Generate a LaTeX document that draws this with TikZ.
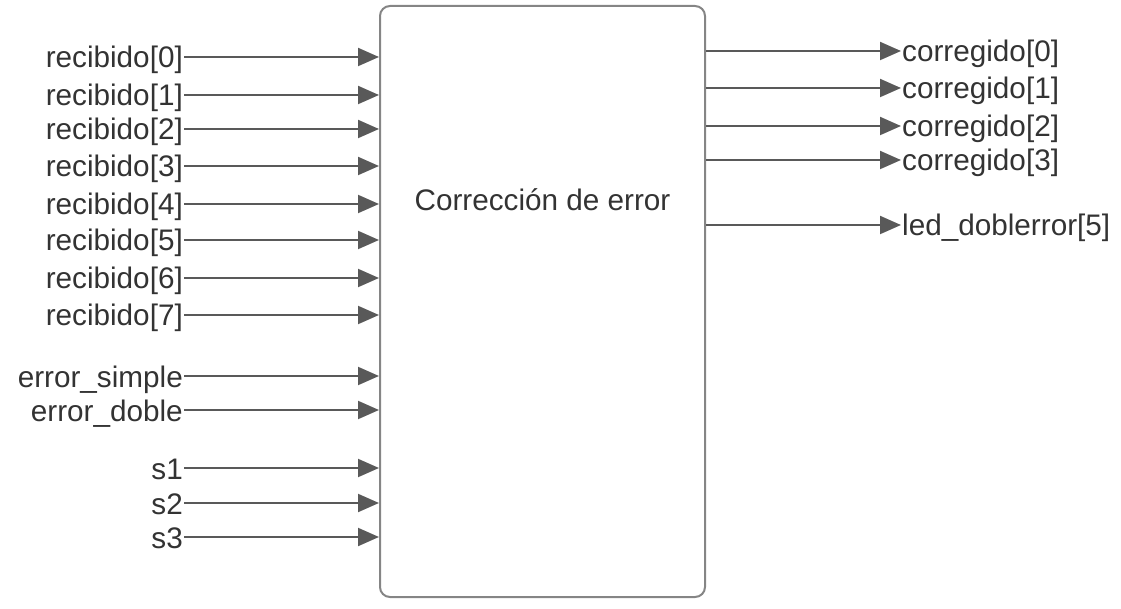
\documentclass[tikz,border=0pt]{standalone}
\usepackage{fontspec}
\setmainfont{Liberation Sans}
\usetikzlibrary{arrows.meta}
\definecolor{wire}{HTML}{595959}
\definecolor{frame}{HTML}{858585}
\definecolor{ink}{HTML}{333333}
\tikzset{
  sig/.style={draw=wire, line width=2pt, -{Triangle[length=21pt,width=18pt]}, color=wire},
  lbl/.style={inner sep=1pt, text=ink, font=\fontsize{29.7}{32}\selectfont, text height=25pt, text depth=3pt},
}
\begin{document}
\begin{tikzpicture}[x=1pt, y=-1pt]
    \useasboundingbox (0,0) rectangle (1121,609);
    % block
    \node[draw=frame, line width=2pt, rounded corners=10pt, minimum width=325pt, minimum height=591pt, inner sep=0pt] (blk) at (542.5,301.5) {};
    \node[lbl] (title) at (542.5,200) {Corrección de error};

    % inputs
    \foreach \y/\txt [count=\i] in {57/recibido[0], 95/recibido[1], 129/recibido[2], 166/recibido[3], 204/recibido[4], 240/recibido[5], 278/recibido[6], 315/recibido[7], 376/error\_simple, 410/error\_doble, 468/s1, 503/s2, 537/s3}{
        \node[lbl, anchor=east] (in\i) at (184,\y) {\txt};
        \draw[sig] (in\i.east) -- (blk.west |- in\i.east);
    }

    % outputs
    \foreach \y/\txt [count=\i] in {51/corregido[0], 88/corregido[1], 126/corregido[2], 160/corregido[3], 225/led\_doblerror[5]}{
        \node[lbl, anchor=west] (out\i) at (901,\y) {\txt};
        \draw[sig] (blk.east |- out\i.west) -- (out\i.west);
    }
\end{tikzpicture}
\end{document}
